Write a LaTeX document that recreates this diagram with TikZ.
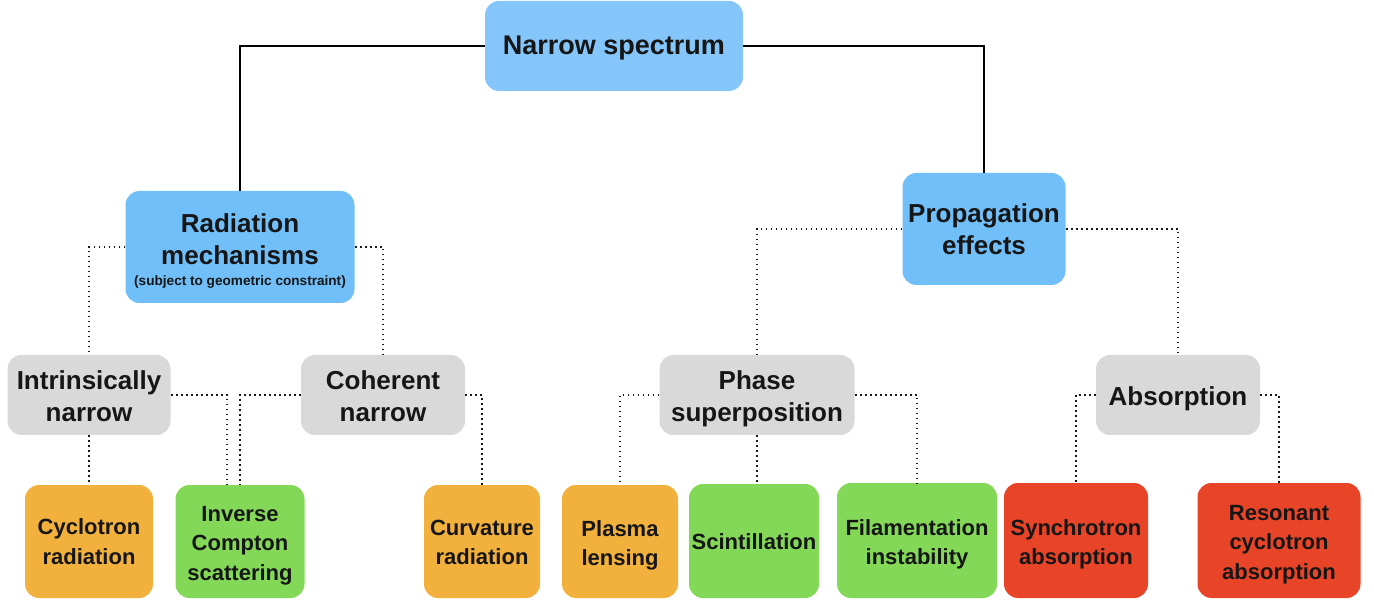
\documentclass[tikz,border=0pt]{standalone}
\usepackage{fontspec}
\setmainfont{Liberation Sans}
\definecolor{nsblue}{HTML}{84C5FA}
\definecolor{cblue}{HTML}{71BFF8}
\definecolor{cgrey}{HTML}{D9D9D9}
\definecolor{corange}{HTML}{F2B13C}
\definecolor{cgreen}{HTML}{84D857}
\definecolor{cred}{HTML}{E84428}
\definecolor{ctext}{HTML}{161616}
\tikzset{
  box/.style={rectangle, rounded corners=14pt, inner sep=0pt},
  txt/.style={inner sep=0pt, align=center, text=ctext},
  ttop/.style={txt, font=\fontsize{27}{32}\selectfont\bfseries},
  tmid/.style={txt, font=\fontsize{26}{32.5}\selectfont\bfseries},
  tleaf/.style={txt, font=\fontsize{22}{29.5}\selectfont\bfseries},
  solidline/.style={line width=1.5pt, black},
  dotline/.style={line width=1.8pt, black!90, dash pattern=on 1.8pt off 3.2pt},
}
\begin{document}
\begin{tikzpicture}[x=1pt, y=-1pt]
\useasboundingbox (0,0) rectangle (1374,601);
% top
\node[box, fill=nsblue, minimum width=258pt, minimum height=90pt] (ns) at (614,46) {};
\node[ttop] (nst) at ([yshift=-2pt]ns.center) {Narrow spectrum};
% level 2
\node[box, fill=cblue, minimum width=229pt, minimum height=112pt] (rad) at (240,247) {};
\node[tmid] (radt) at ([yshift=-4pt]rad.center)
  {Radiation\\mechanisms\\[-12pt]{\fontsize{13.6}{16}\selectfont (subject to geometric constraint)}};
\node[box, fill=cblue, minimum width=163pt, minimum height=112pt] (prop) at (984,229) {};
\node[tmid] (propt) at (prop.center) {Propagation\\effects};
% level 3
\node[box, fill=cgrey, minimum width=163pt, minimum height=80pt] (intr) at (89,395) {};
\node[tmid] (intrt) at ([yshift=-1pt]intr.center) {Intrinsically\\narrow};
\node[box, fill=cgrey, minimum width=164pt, minimum height=80pt] (coh) at (383,395) {};
\node[tmid] (coht) at ([yshift=-1pt]coh.center) {Coherent\\narrow};
\node[box, fill=cgrey, minimum width=195pt, minimum height=80pt] (ph) at (757,395) {};
\node[tmid] (pht) at ([yshift=-4pt]ph.center) {Phase\\superposition};
\node[box, fill=cgrey, minimum width=164pt, minimum height=80pt] (abs) at (1178,395) {};
\node[tmid] (abst) at ([yshift=-4pt]abs.center) {Absorption};
% leaves
\node[box, fill=corange, minimum width=128pt, minimum height=113pt] (cyc) at (89,541.5) {};
\node[tleaf] (cyct) at (cyc.center) {Cyclotron\\radiation};
\node[box, fill=cgreen, minimum width=129pt, minimum height=113pt] (ic) at (240,541.5) {};
\node[tleaf] (ict) at ([yshift=-4pt]ic.center) {Inverse\\Compton\\scattering};
\node[box, fill=corange, minimum width=116pt, minimum height=113pt] (cur) at (482,541.5) {};
\node[tleaf] (curt) at ([yshift=-1pt]cur.center) {Curvature\\radiation};
\node[box, fill=corange, minimum width=116pt, minimum height=113pt] (pl) at (620,541.5) {};
\node[tleaf] (plt) at ([yshift=-4pt]pl.center) {Plasma\\lensing};
\node[box, fill=cgreen, minimum width=130pt, minimum height=114pt] (sc) at (754,541) {};
\node[tleaf] (sct) at ([yshift=-1pt]sc.center) {Scintillation};
\node[box, fill=cgreen, minimum width=160pt, minimum height=115pt] (fil) at (917,540.5) {};
\node[tleaf] (filt) at ([yshift=-4pt]fil.center) {Filamentation\\instability};
\node[box, fill=cred, minimum width=144pt, minimum height=115pt] (syn) at (1076,540.5) {};
\node[tleaf] (synt) at ([yshift=-4pt]syn.center) {Synchrotron\\absorption};
\node[box, fill=cred, minimum width=163pt, minimum height=115pt] (res) at (1279,540.5) {};
\node[tleaf] (rest) at ([yshift=-4pt]res.center) {Resonant\\cyclotron\\absorption};
% solid connectors
\draw[solidline] (ns.west) -| (rad.north);
\draw[solidline] (ns.east) -| (prop.north);
% dotted connectors
\draw[dotline] (rad.west) -| (intr.north);
\draw[dotline] (rad.east) -| (coh.north);
\draw[dotline] (prop.west) -| (ph.north);
\draw[dotline] (prop.east) -| (abs.north);
\coordinate (icleft) at ([xshift=-13pt]ic.north);
\draw[dotline] (intr.south) -- (cyc.north);
\draw[dotline] (intr.east) -| (icleft);
\draw[dotline] (coh.west) -| (ic.north);
\draw[dotline] (coh.east) -| (cur.north);
\draw[dotline] (ph.west) -| (pl.north);
\draw[dotline] (ph.south) -- (ph.south |- sc.north);
\draw[dotline] (ph.east) -| (fil.north);
\draw[dotline] (abs.west) -| (syn.north);
\draw[dotline] (abs.east) -| (res.north);
\end{tikzpicture}
\end{document}
